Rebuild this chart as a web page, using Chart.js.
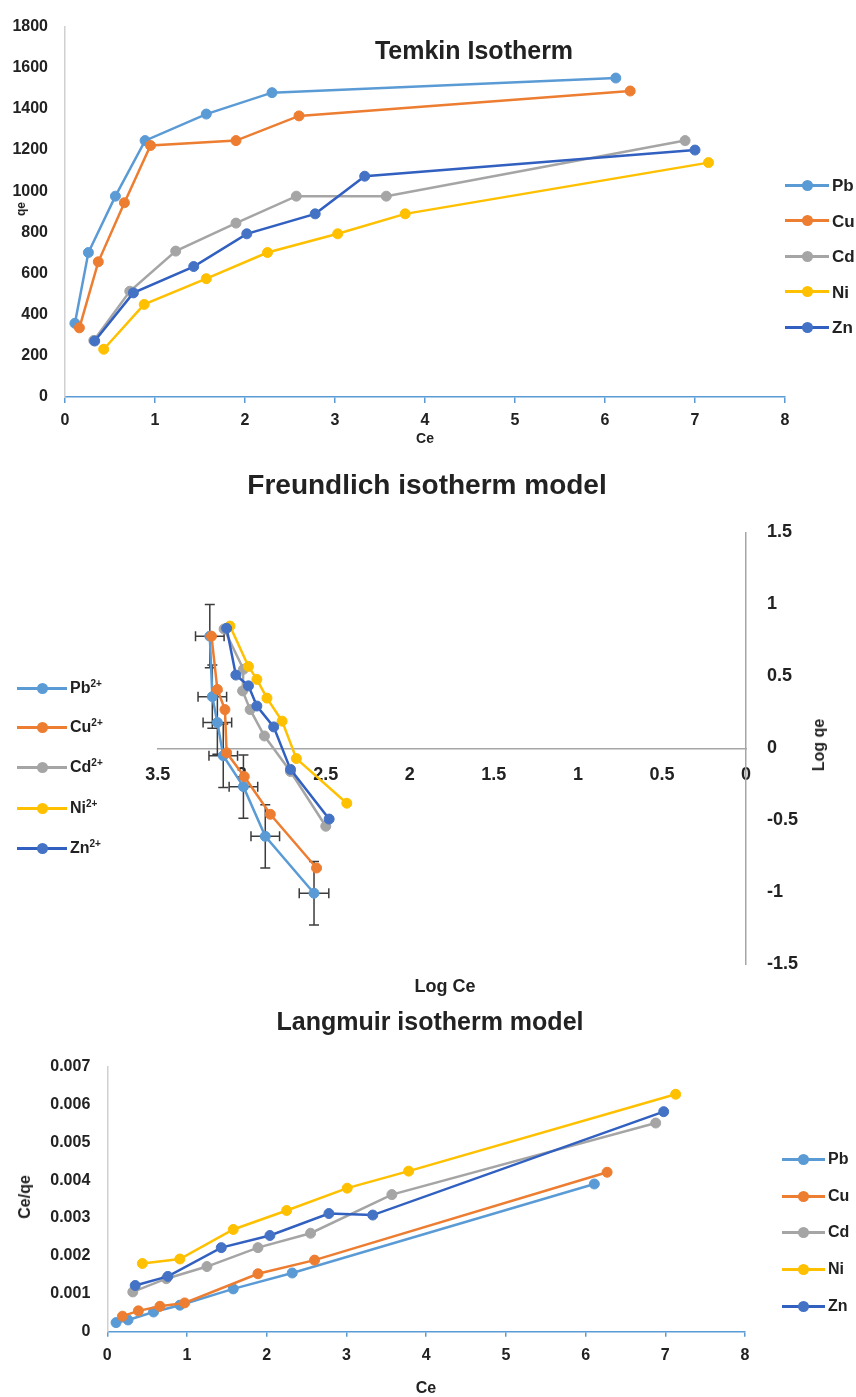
<!DOCTYPE html>
<html>
<head>
<meta charset="utf-8">
<script src="https://cdn.jsdelivr.net/npm/chart.js@4.4.1/dist/chart.umd.min.js"></script>
<style>
  html,body{margin:0;padding:0;background:#fff;}
  body{width:856px;height:1397px;position:relative;overflow:hidden;
       font-family:"Liberation Sans",Arial,sans-serif;font-weight:bold;color:#222;}
  canvas.cv{position:absolute;left:0;}
  .t{position:absolute;white-space:nowrap;line-height:1;transform:translate(-50%,-50%);}
  .rot{transform:translate(-50%,-50%) rotate(-90deg);}
  .legrow{position:absolute;height:0;}
  .legrow .ln{position:absolute;height:3px;top:-1.5px;}
  .legrow .dot{position:absolute;width:11px;height:11px;border-radius:50%;top:-5.5px;}
  .legrow .lb{position:absolute;top:0;transform:translateY(-50%);line-height:1;white-space:nowrap;}
  .sp{font-size:10px;position:relative;top:-6px;}
</style>
</head>
<body>
<canvas id="cTemkin" class="cv" style="top:0px" width="856" height="450"></canvas>
<canvas id="cFreund" class="cv" style="top:470px" width="856" height="530"></canvas>
<canvas id="cLang" class="cv" style="top:1040px" width="856" height="357"></canvas>

<div class="t" style="left:474px;top:50px;font-size:25px;">Temkin Isotherm</div>
<div class="t rot" style="left:21px;top:209px;font-size:12px;">qe</div>
<div class="t" style="left:425px;top:438px;font-size:14px;">Ce</div>

<div class="t" style="left:427px;top:485px;font-size:28px;">Freundlich isotherm model</div>
<div class="t" style="left:445px;top:986px;font-size:18px;">Log Ce</div>
<div class="t rot" style="left:819px;top:745px;font-size:16px;">Log qe</div>

<div class="t" style="left:430px;top:1021px;font-size:25px;">Langmuir isotherm model</div>
<div class="t rot" style="left:25px;top:1197px;font-size:16px;">Ce/qe</div>
<div class="t" style="left:426px;top:1388px;font-size:16px;">Ce</div>

<div id="legends"></div>

<script>
// ---------------- DATA ----------------
const metals = ['Pb', 'Cu', 'Cd', 'Ni', 'Zn'];
const ionLabels = ['Pb', 'Cu', 'Cd', 'Ni', 'Zn'];
const ionCharge = '2+';

// Temkin isotherm: Ce (x) and qe (y), one row per metal (Pb, Cu, Cd, Ni, Zn)
const temkinCe = [
  [0.11, 0.26, 0.56, 0.89, 1.57, 2.30, 6.12],
  [0.16, 0.37, 0.66, 0.95, 1.90, 2.60, 6.28],
  [0.32, 0.72, 1.23, 1.90, 2.57, 3.57, 6.89],
  [0.43, 0.88, 1.57, 2.25, 3.03, 3.78, 7.15],
  [0.33, 0.76, 1.43, 2.02, 2.78, 3.33, 7.00]
];
const temkinQe = [
  [358, 702, 976, 1246, 1375, 1479, 1550],
  [336, 657, 944, 1222, 1246, 1366, 1487],
  [275, 514, 709, 845, 976, 976, 1246],
  [232, 450, 575, 702, 793, 890, 1139],
  [272, 506, 634, 793, 890, 1073, 1200]
];
const temkinXTicks = [0, 1, 2, 3, 4, 5, 6, 7, 8];
const temkinYTicks = [0, 200, 400, 600, 800, 1000, 1200, 1400, 1600, 1800];

// Freundlich isotherm: "Log Ce" axis (x, reversed) and "Log qe" axis (y)
const freundX = [
  [3.19, 3.175, 3.145, 3.11, 2.99, 2.86, 2.57],
  [3.18, 3.145, 3.10, 3.09, 2.985, 2.83, 2.555],
  [3.105, 2.99, 2.995, 2.95, 2.865, 2.71, 2.50],
  [3.07, 2.96, 2.91, 2.85, 2.76, 2.675, 2.375],
  [3.09, 3.035, 2.96, 2.91, 2.81, 2.71, 2.48]
];
const freundY = [
  [0.78, 0.36, 0.18, -0.05, -0.265, -0.61, -1.005],
  [0.78, 0.41, 0.27, -0.03, -0.195, -0.457, -0.83],
  [0.83, 0.55, 0.40, 0.27, 0.087, -0.16, -0.54],
  [0.85, 0.57, 0.48, 0.35, 0.19, -0.07, -0.38],
  [0.835, 0.51, 0.435, 0.295, 0.15, -0.145, -0.49]
];
const freundPbErrX = [0.085, 0.085, 0.085, 0.085, 0.085, 0.085, 0.088];
const freundPbErrY = [0.22, 0.22, 0.22, 0.22, 0.22, 0.22, 0.22];
const freundXTicks = [0, 0.5, 1, 1.5, 2, 2.5, 3, 3.5];
const freundYTicks = [-1.5, -1, -0.5, 0, 0.5, 1, 1.5];

// Langmuir isotherm: Ce (x) and Ce/qe (y)
const langCe = [
  [0.11, 0.26, 0.58, 0.91, 1.58, 2.32, 6.11],
  [0.19, 0.39, 0.66, 0.97, 1.89, 2.60, 6.27],
  [0.32, 0.74, 1.25, 1.89, 2.55, 3.57, 6.88],
  [0.44, 0.91, 1.58, 2.25, 3.01, 3.78, 7.13],
  [0.35, 0.76, 1.43, 2.04, 2.78, 3.33, 6.98]
];
const langCeQe = [
  [0.00024, 0.00031, 0.00052, 0.00070, 0.00113, 0.00155, 0.00390],
  [0.00041, 0.00055, 0.00067, 0.00076, 0.00153, 0.00189, 0.00421],
  [0.00105, 0.00140, 0.00172, 0.00222, 0.00260, 0.00362, 0.00551],
  [0.00180, 0.00192, 0.00270, 0.00320, 0.00379, 0.00424, 0.00627],
  [0.00122, 0.00146, 0.00222, 0.00254, 0.00312, 0.00308, 0.00581]
];
const langXTicks = [0, 1, 2, 3, 4, 5, 6, 7, 8];
const langYTicks = [0, 0.001, 0.002, 0.003, 0.004, 0.005, 0.006, 0.007];

// ---------------- STYLE ----------------
const markerColors = ['#5B9BD5', '#ED7D31', '#A5A5A5', '#FFC000', '#4472C4'];
const lineColors = ['#5B9BD5', '#ED7D31', '#A5A5A5', '#FFC000', '#3160C0'];
const FONT = '"Liberation Sans", Arial, sans-serif';
const TXT = '#222';

Chart.defaults.font.family = FONT;
Chart.defaults.font.weight = 'bold';
Chart.defaults.color = TXT;

function buildSets(xs, ys, extra) {
  return metals.map((m, i) => Object.assign({
    label: m,
    data: xs[i].map((x, j) => ({ x: x, y: ys[i][j] })),
    borderColor: lineColors[i],
    backgroundColor: markerColors[i],
    pointBackgroundColor: markerColors[i],
    pointBorderColor: markerColors[i],
    pointRadius: 5,
    pointHoverRadius: 5,
    pointBorderWidth: 1,
    borderWidth: 2.5,
    tension: 0,
    fill: false,
    order: metals.length - i
  }, extra ? extra(i) : {}));
}

function fixedTicks(arr) {
  return function (scale) { scale.ticks = arr.map(v => ({ value: v })); };
}
const asText = v => String(v);

// Error bars for a dataset, drawn through the chart's scales
const errorBarPlugin = {
  id: 'errorBars',
  beforeDatasetDraw(chart, args) {
    const ds = chart.data.datasets[args.index];
    if (!ds.errX) return;
    const ctx = chart.ctx, xs = chart.scales.x, ys = chart.scales.y;
    const cap = 5;
    ctx.save();
    ctx.strokeStyle = '#3c3c3c';
    ctx.lineWidth = 1.5;
    ds.data.forEach((p, i) => {
      const cx = xs.getPixelForValue(p.x), cy = ys.getPixelForValue(p.y);
      const xa = xs.getPixelForValue(p.x + ds.errX[i]), xb = xs.getPixelForValue(p.x - ds.errX[i]);
      const ya = ys.getPixelForValue(p.y + ds.errY[i]), yb = ys.getPixelForValue(p.y - ds.errY[i]);
      ctx.beginPath();
      ctx.moveTo(xa, cy); ctx.lineTo(xb, cy);
      ctx.moveTo(xa, cy - cap); ctx.lineTo(xa, cy + cap);
      ctx.moveTo(xb, cy - cap); ctx.lineTo(xb, cy + cap);
      ctx.moveTo(cx, ya); ctx.lineTo(cx, yb);
      ctx.moveTo(cx - cap, ya); ctx.lineTo(cx + cap, ya);
      ctx.moveTo(cx - cap, yb); ctx.lineTo(cx + cap, yb);
      ctx.stroke();
    });
    ctx.restore();
  }
};

const commonOpts = {
  responsive: false,
  animation: false,
  devicePixelRatio: 1,
  events: [],
  plugins: { legend: { display: false }, tooltip: { enabled: false }, title: { display: false } }
};

// ---------------- TEMKIN ----------------
new Chart(document.getElementById('cTemkin'), {
  type: 'line',
  data: { datasets: buildSets(temkinCe, temkinQe) },
  options: Object.assign({}, commonOpts, {
    layout: { padding: { left: 0, right: 71, top: 20, bottom: 0 } },
    scales: {
      x: {
        type: 'linear', min: 0, max: 8,
        afterBuildTicks: fixedTicks(temkinXTicks),
        ticks: { callback: asText, padding: 8, color: TXT, font: { size: 16, weight: 'bold' }, maxRotation: 0 },
        grid: { display: true, drawOnChartArea: false, drawTicks: true, tickLength: 6, color: '#5B9BD5', lineWidth: 1.5 },
        border: { display: true, color: '#5B9BD5', width: 1.5 },
        afterFit(s) { s.height = 53; }
      },
      y: {
        type: 'linear', min: 0, max: 1800,
        afterBuildTicks: fixedTicks(temkinYTicks),
        ticks: { callback: asText, padding: 17, color: TXT, font: { size: 16, weight: 'bold' } },
        grid: { display: false, drawTicks: false },
        border: { display: true, color: '#D0D0D0', width: 1.5 },
        afterFit(s) { s.width = 65; }
      }
    }
  })
});

// ---------------- FREUNDLICH ----------------
new Chart(document.getElementById('cFreund'), {
  type: 'line',
  data: {
    datasets: buildSets(freundX, freundY, i => i === 0 ? { errX: freundPbErrX, errY: freundPbErrY } : {})
  },
  options: Object.assign({}, commonOpts, {
    layout: { padding: { left: 157.7, right: 0, top: 62.5, bottom: 35.5 } },
    scales: {
      x: {
        type: 'linear', min: 0, max: 3.5, reverse: true,
        position: { y: 0 },
        afterBuildTicks: fixedTicks(freundXTicks),
        ticks: { callback: asText, padding: 16, color: TXT, font: { size: 18, weight: 'bold' }, maxRotation: 0 },
        grid: { display: false, drawTicks: false },
        border: { display: true, color: '#A6A6A6', width: 1.5 }
      },
      y: {
        type: 'linear', min: -1.5, max: 1.5,
        position: 'right',
        afterBuildTicks: fixedTicks(freundYTicks),
        ticks: { callback: asText, padding: 21, color: TXT, font: { size: 18, weight: 'bold' } },
        grid: { display: false, drawTicks: false },
        border: { display: true, color: '#A6A6A6', width: 1.5 },
        afterFit(s) { s.width = 110; }
      }
    }
  }),
  plugins: [errorBarPlugin]
});

// ---------------- LANGMUIR ----------------
new Chart(document.getElementById('cLang'), {
  type: 'line',
  data: { datasets: buildSets(langCe, langCeQe) },
  options: Object.assign({}, commonOpts, {
    layout: { padding: { left: 0, right: 111, top: 24, bottom: 0 } },
    scales: {
      x: {
        type: 'linear', min: 0, max: 8,
        afterBuildTicks: fixedTicks(langXTicks),
        ticks: { callback: asText, padding: 9, color: TXT, font: { size: 16, weight: 'bold' }, maxRotation: 0 },
        grid: { display: true, drawOnChartArea: false, drawTicks: true, tickLength: 5, color: '#5B9BD5', lineWidth: 1.5 },
        border: { display: true, color: '#5B9BD5', width: 1.5 },
        afterFit(s) { s.height = 65.3; }
      },
      y: {
        type: 'linear', min: 0, max: 0.007,
        afterBuildTicks: fixedTicks(langYTicks),
        ticks: { callback: asText, padding: 17, color: TXT, font: { size: 16, weight: 'bold' } },
        grid: { display: false, drawTicks: false },
        border: { display: true, color: '#D0D0D0', width: 1.5 },
        afterFit(s) { s.width = 107.3; }
      }
    }
  })
});

// ---------------- LEGENDS (HTML) ----------------
function legend(rows, lineX1, lineX2, textX, fontSize, withCharge) {
  const host = document.getElementById('legends');
  metals.forEach((m, i) => {
    const row = document.createElement('div');
    row.className = 'legrow';
    row.style.top = rows[i] + 'px';
    row.style.left = '0px';
    const ln = document.createElement('div');
    ln.className = 'ln';
    ln.style.left = lineX1 + 'px';
    ln.style.width = (lineX2 - lineX1) + 'px';
    ln.style.background = lineColors[i];
    const dot = document.createElement('div');
    dot.className = 'dot';
    dot.style.left = ((lineX1 + lineX2) / 2 - 5.5) + 'px';
    dot.style.background = markerColors[i];
    const lb = document.createElement('div');
    lb.className = 'lb';
    lb.style.left = textX + 'px';
    lb.style.fontSize = fontSize + 'px';
    lb.textContent = ionLabels[i];
    if (withCharge) {
      const s = document.createElement('span');
      s.className = 'sp';
      s.textContent = ionCharge;
      lb.appendChild(s);
    }
    row.appendChild(ln); row.appendChild(dot); row.appendChild(lb);
    host.appendChild(row);
  });
}
legend([185, 220.5, 256, 291.5, 327], 785, 829, 832, 17, false);
legend([688, 727, 767, 808, 848], 17, 67, 70, 16, true);
legend([1159, 1196, 1232, 1269, 1306], 782, 825, 828, 16, false);
</script>
</body>
</html>
